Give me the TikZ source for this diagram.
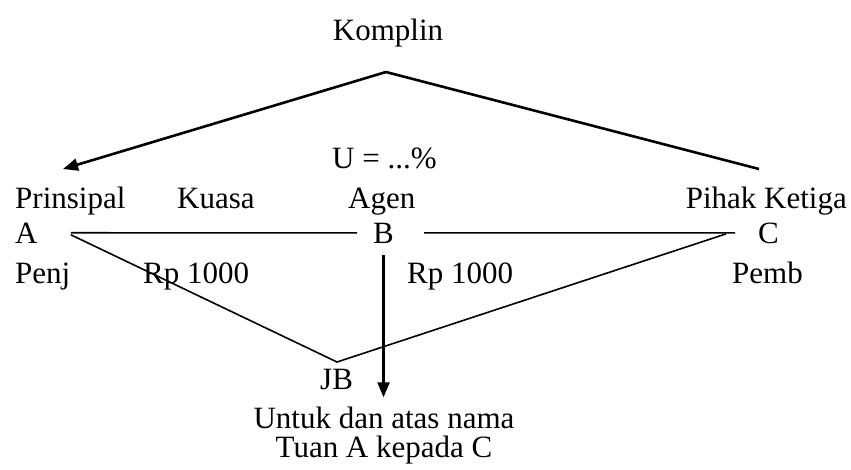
\documentclass[tikz,border=0pt]{standalone}
\usepackage{fontspec}
\setmainfont{Liberation Serif}
\usetikzlibrary{arrows.meta}
\begin{document}
\begin{tikzpicture}[x=1pt,y=-1pt,
  lbl/.style={inner sep=0pt,font=\fontsize{31}{35}\selectfont},
  thin line/.style={line width=1.6pt},
  thick line/.style={line width=2.6pt},
  tip/.style={-{Triangle[length=15pt,width=12pt]}}]
\useasboundingbox[fill=white] (0,0) rectangle (851,469);
\node[lbl,anchor=base] (komplin) at (388,40) {Komplin};
\node[lbl,anchor=base west] (u) at (332,168) {U = ...\%};
\node[lbl,anchor=base west] (prinsipal) at (15,208) {Prinsipal};
\node[lbl,anchor=base west] (kuasa) at (177,208) {Kuasa};
\node[lbl,anchor=base west] (agen) at (348,208) {Agen};
\node[lbl,anchor=base east] (pihak) at (847,208) {Pihak Ketiga};
\node[lbl,anchor=base west] (A) at (15,243) {A};
\node[lbl,anchor=base west] (B) at (373,243) {B};
\node[lbl,anchor=base west] (C) at (758,243) {C};
\node[lbl,anchor=base west] (penj) at (15,283) {Penj};
\node[lbl,anchor=base west] (rp1) at (143,283) {Rp 1000};
\node[lbl,anchor=base west] (rp2) at (407,283) {Rp 1000};
\node[lbl,anchor=base west] (pemb) at (732,283) {Pemb};
\node[lbl,anchor=base west] (jb) at (320,389) {JB};
\node[lbl,anchor=base] (untuk) at (384,428) {Untuk dan atas nama};
\node[lbl,anchor=base] (tuan) at (384,457) {Tuan A kepada C};
\coordinate (apex) at (386,72);
\coordinate (ltip) at (63,169);
\coordinate (rend) at (759,169);
\coordinate (v) at (337,362);
% Komplin lines
\draw[thick line,tip] (apex) -- (ltip);
\draw[thick line] (apex) -- (rend);
% A - B - C
\draw[thin line,shorten <=33pt,shorten >=16pt] (A.east) -- (B.west);
\draw[thin line,shorten <=30pt,shorten >=23pt] (B.east) -- (C.west);
% JB triangle
\draw[thin line] ([xshift=33pt,yshift=-2pt]A.east) -- (v) -- ([xshift=-32pt,yshift=-1pt]C.west);
% vertical arrow
\draw[line width=2.2pt,tip,shorten <=12pt,shorten >=9pt] (B.south) -- (B.south |- untuk.north);
\end{tikzpicture}
\end{document}
